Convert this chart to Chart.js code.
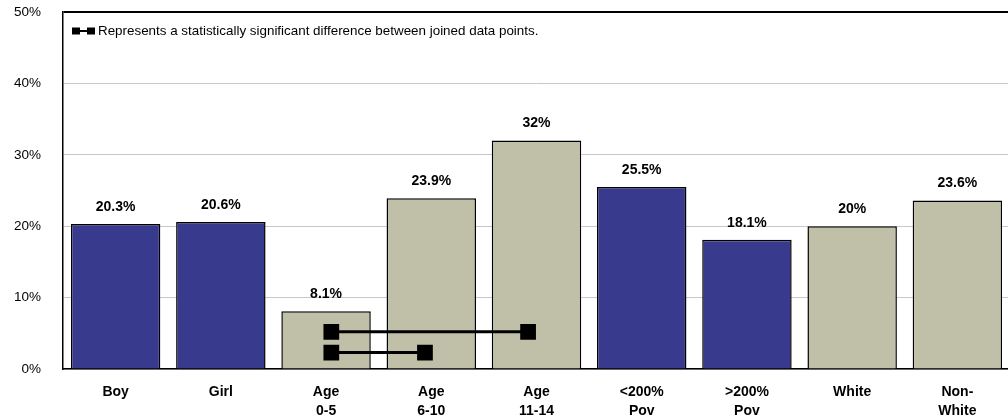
<!DOCTYPE html>
<html>
<head>
<meta charset="utf-8">
<script src="https://cdn.jsdelivr.net/npm/chart.js@4.4.1/dist/chart.umd.min.js"></script>
<style>
html,body{margin:0;padding:0;overflow:hidden;background:#fff;}
#wrap{position:absolute;left:0;top:0;width:1022px;height:420px;}
</style>
</head>
<body>
<div id="wrap"><canvas id="c" width="1022" height="420"></canvas></div>
<script>
// ---- data ----
const categories = [["Boy"],["Girl"],["Age","0-5"],["Age","6-10"],["Age","11-14"],["<200%","Pov"],[">200%","Pov"],["White"],["Non-","White"]];
const values = [20.3, 20.6, 8.1, 23.9, 32, 25.5, 18.1, 20, 23.6];
const valueLabels = ["20.3%","20.6%","8.1%","23.9%","32%","25.5%","18.1%","20%","23.6%"];
const groups = ["blue","blue","beige","beige","beige","blue","blue","beige","beige"];
const yTicks = [0,10,20,30,40,50];
const sigUpperX = [2.05, 3.92];
const sigUpperY = [5.2, 5.2];
const sigLowerX = [2.05, 2.94];
const sigLowerY = [2.3, 2.3];
const legendText = "Represents a statistically significant difference between joined data points.";

const COLORS = {blue:'#383a8e', beige:'#c0c0a8'};
const FONT = "'Liberation Sans',Arial,sans-serif";

const labelPlugin = {
  id:'valueLabels',
  afterDatasetsDraw(chart){
    const ctx = chart.ctx;
    const meta = chart.getDatasetMeta(0);
    ctx.save();
    ctx.font = "bold 14px " + FONT;
    ctx.fillStyle = '#000';
    ctx.textAlign = 'center';
    ctx.textBaseline = 'middle';
    meta.data.forEach((bar,i)=>{
      ctx.fillText(valueLabels[i], bar.x, bar.y - 17);
    });
    ctx.restore();
  }
};

const legendPlugin = {
  id:'sigLegend',
  afterDraw(chart){
    const ctx = chart.ctx;
    const a = chart.chartArea;
    const y = a.top + 19;
    const x0 = a.left + 9;
    ctx.save();
    ctx.fillStyle = '#000';
    ctx.fillRect(x0, y-3.5, 8, 7);
    ctx.fillRect(x0+15, y-3.5, 8, 7);
    ctx.fillRect(x0+8, y-1, 8, 2);
    ctx.font = "13.4px " + FONT;
    ctx.textAlign = 'left';
    ctx.textBaseline = 'middle';
    ctx.fillText(legendText, x0+26, y);
    ctx.restore();
  }
};

new Chart(document.getElementById('c'), {
  type:'bar',
  data:{
    labels: categories,
    datasets:[
      {
        type:'bar',
        data: values,
        backgroundColor: groups.map(g=>COLORS[g]),
        borderColor:'#000',
        borderWidth:1.5,
        grouped:false,
        categoryPercentage:1,
        barPercentage:0.85,
        xAxisID:'x', yAxisID:'y',
        order:2
      },
      {
        type:'line',
        data: sigUpperX.map((x,i)=>({x:x, y:sigUpperY[i]})),
        xAxisID:'x2', yAxisID:'y',
        borderColor:'#000', backgroundColor:'#000',
        borderWidth:3, pointStyle:'rect', pointRadius:9, pointHoverRadius:9,
        order:1
      },
      {
        type:'line',
        data: sigLowerX.map((x,i)=>({x:x, y:sigLowerY[i]})),
        xAxisID:'x2', yAxisID:'y',
        borderColor:'#000', backgroundColor:'#000',
        borderWidth:3, pointStyle:'rect', pointRadius:9, pointHoverRadius:9,
        order:1
      }
    ]
  },
  options:{
    responsive:false,
    animation:false,
    layout:{padding:{top:12,right:2.5,left:0,bottom:0}},
    plugins:{legend:{display:false}, tooltip:{enabled:false}, title:{display:false}},
    scales:{
      x:{
        type:'category',
        offset:true,
        grid:{display:false, drawTicks:false},
        border:{display:true,color:'#000',width:1.5},
        ticks:{color:'#000', font:{family:FONT, size:14, weight:'bold', lineHeight:1.36}, padding:14, maxRotation:0, autoSkip:false},
        afterFit(s){ s.height = 51; s.paddingLeft = 0; s.paddingRight = 0; }
      },
      x2:{
        type:'linear', display:false, offset:false, min:-0.5, max:8.5,
        afterFit(s){ s.paddingLeft = 0; s.paddingRight = 0; }
      },
      y:{
        min:0, max:50,
        afterBuildTicks(s){ s.ticks = yTicks.map(v=>({value:v})); },
        grid:{
          drawTicks:false,
          color:(c)=> c.tick && (c.tick.value===50) ? '#000' : '#c8c8c8',
          lineWidth:(c)=> c.tick && (c.tick.value===50) ? 2 : 1
        },
        border:{display:true,color:'#000',width:1.5},
        ticks:{color:'#000', font:{family:FONT, size:13.5}, padding:22, callback:(v)=>v+'%'},
        afterFit(s){ s.width = 63; s.paddingTop = 0; s.paddingBottom = 0; }
      }
    }
  },
  plugins:[labelPlugin, legendPlugin]
});
</script>
</body>
</html>
